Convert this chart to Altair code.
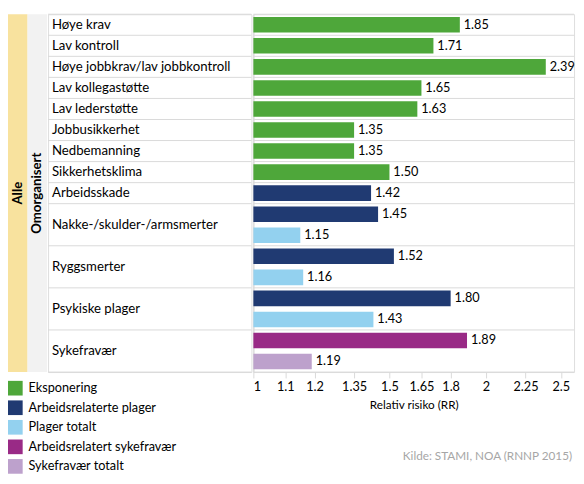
import altair as alt
import pandas as pd

FONT = "Lato"

categories = [
    "Høye krav", "Lav kontroll", "Høye jobbkrav/lav jobbkontroll",
    "Lav kollegastøtte", "Lav lederstøtte", "Jobbusikkerhet",
    "Nedbemanning", "Sikkerhetsklima", "Arbeidsskade",
    "Nakke-/skulder-/armsmerter", "Ryggsmerter", "Psykiske plager", "Sykefravær",
]
series_names = [
    "Eksponering", "Arbeidsrelaterte plager", "Plager totalt",
    "Arbeidsrelatert sykefravær", "Sykefravær totalt",
]
series_colors = ["#4EA73A", "#203A72", "#93D1EF", "#992A86", "#BDA1CC"]

exposure_values = [1.85, 1.71, 2.39, 1.65, 1.63, 1.35, 1.35, 1.50]
work_related_values = [1.42, 1.45, 1.52, 1.80]      # Arbeidsskade .. Psykiske plager
total_complaint_values = [None, 1.15, 1.16, 1.43]
sick_work_values = [1.89]
sick_total_values = [1.19]

tick_values = [1, 1.1, 1.2, 1.35, 1.5, 1.65, 1.8, 2, 2.25, 2.5]

# ---- build tables ----
rows = []
for c, v in zip(categories[:8], exposure_values):
    rows.append((c, series_names[0], v))
for c, a, t in zip(categories[8:12], work_related_values, total_complaint_values):
    rows.append((c, series_names[1], a))
    if t is not None:
        rows.append((c, series_names[2], t))
for a, t in zip(sick_work_values, sick_total_values):
    rows.append((categories[12], series_names[3], a))
    rows.append((categories[12], series_names[4], t))

df = pd.DataFrame(rows, columns=["category", "series", "value"])
df["slot"] = range(len(df))
df["y0"] = df["slot"] + 0.13
df["y1"] = df["slot"] + 0.87
df["ymid"] = df["slot"] + 0.5
df["base"] = 1.0

grp = df.groupby("category", sort=False)["slot"].agg(["min", "max"]).reset_index()
grp["center"] = (grp["min"] + grp["max"] + 1) / 2
n_slots = len(df)
bounds = sorted(set(grp["min"].tolist() + [n_slots]))
bdf = pd.DataFrame({"b": bounds})

H = 366
PW = 328
GRID = "#D9D9D9"

yscale = alt.Scale(domain=[0, n_slots], reverse=True, nice=False, zero=False)
xscale = alt.Scale(type="log", domain=[1, 2.6], nice=False)

# ---- plot panel ----
bars = alt.Chart(df).mark_bar().encode(
    x=alt.X("value:Q", scale=xscale,
            axis=alt.Axis(values=tick_values, format="~g", grid=False,
                          domain=False, tickColor=GRID, tickSize=6,
                          labelFont=FONT, labelFontSize=13, labelColor="#000",
                          labelFlush=True, labelPadding=3,
                          title="Relativ risiko (RR)", titleFont=FONT,
                          titleFontSize=12, titleFontWeight="normal",
                          titleColor="#000", titlePadding=6)),
    x2="base:Q",
    y=alt.Y("y0:Q", scale=yscale,
            axis=alt.Axis(labels=False, ticks=False, grid=False, title=None,
                          domainColor=GRID, domainWidth=1)),
    y2="y1:Q",
    color=alt.Color("series:N",
                    scale=alt.Scale(domain=series_names, range=series_colors),
                    legend=alt.Legend(title=None, orient="none",
                                      legendX=0, legendY=375,
                                      symbolType="square", symbolSize=225,
                                      symbolStrokeWidth=0, labelFont=FONT,
                                      labelFontSize=13, labelColor="#000",
                                      rowPadding=5, labelOffset=6)),
)

vals = alt.Chart(df).mark_text(align="left", baseline="middle", dx=4,
                               font=FONT, fontSize=13, color="#000").encode(
    x=alt.X("value:Q", scale=xscale),
    y=alt.Y("ymid:Q", scale=yscale),
    text=alt.Text("value:Q", format=".2f"),
)

grid_plot = alt.Chart(bdf).mark_rule(color=GRID, strokeWidth=1).encode(
    y=alt.Y("b:Q", scale=yscale)
)

source = alt.Chart(pd.DataFrame({"t": ["Kilde: STAMI, NOA (RNNP 2015)"]})).mark_text(
    align="right", baseline="middle", font=FONT, fontSize=12, color="#A6A6A6"
).encode(text="t:N", x=alt.value(PW - 2), y=alt.value(452))

plot = alt.layer(grid_plot, bars, vals, source).properties(width=PW, height=H)

# ---- category label panel ----
grid_lab = alt.Chart(bdf).mark_rule(color=GRID, strokeWidth=1).encode(
    y=alt.Y("b:Q", scale=yscale, axis=None)
)
lab_text = alt.Chart(grp).mark_text(align="left", baseline="middle",
                                    font=FONT, fontSize=13.5, color="#000").encode(
    x=alt.value(4),
    y=alt.Y("center:Q", scale=yscale, axis=None),
    text="category:N",
)
labels = alt.layer(grid_lab, lab_text).properties(width=208, height=H)

# ---- strips ----
strip1 = alt.Chart(pd.DataFrame({"t": ["Alle"]})).mark_text(
    angle=270, fontWeight="bold", font=FONT, fontSize=13.5, color="#000",
    align="center", baseline="middle"
).encode(text="t:N", x=alt.value(10), y=alt.value(H / 2)).properties(
    width=20, height=H, view=alt.ViewBackground(fill="#F8E29E", stroke=None)
)
strip2 = alt.Chart(pd.DataFrame({"t": ["Omorganisert"]})).mark_text(
    angle=270, fontWeight="bold", font=FONT, fontSize=13.5, color="#000",
    align="center", baseline="middle"
).encode(text="t:N", x=alt.value(10), y=alt.value(H / 2)).properties(
    width=20, height=H, view=alt.ViewBackground(fill="#F2F2F2", stroke=None)
)

chart = alt.hconcat(strip1, strip2, labels, plot, spacing=0).properties(
    padding=0
).configure_view(stroke=None).configure(background="white")

chart.save("out.html", embed_options={"renderer": "svg", "actions": False})
